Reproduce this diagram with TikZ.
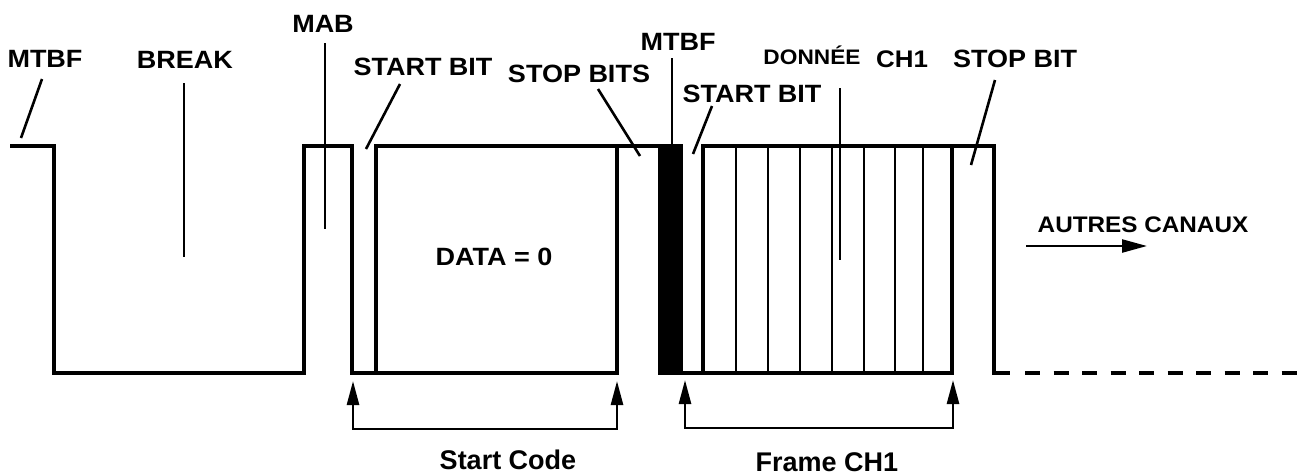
\documentclass[tikz,border=0pt]{standalone}
\usepackage{fontspec}
\setmainfont{Liberation Sans}
\newfontfamily\labfont{Liberation Sans}[FakeStretch=1.08]
\usetikzlibrary{arrows.meta}
\begin{document}
\begin{tikzpicture}[x=1pt,y=-1pt,
  wave/.style={line width=3.9pt, line join=miter, line cap=butt},
  cell/.style={line width=2.8pt},
  leader/.style={line width=2.6pt},
  bracket/.style={line width=2.6pt, {Triangle[length=24pt,width=12pt]}-{Triangle[length=24pt,width=12pt]}},
  lab/.style={inner sep=0pt, anchor=base, font=\labfont\bfseries\fontsize{25}{30}\selectfont},
  labsmall/.style={lab, font=\labfont\bfseries\fontsize{21}{25}\selectfont},
  labmid/.style={lab, font=\labfont\bfseries\fontsize{22.5}{27}\selectfont},
  labmix/.style={inner sep=0pt, anchor=base, font=\bfseries\fontsize{27}{32}\selectfont}]
\useasboundingbox (0,0) rectangle (1307,475);

% ---- waveform ----
\draw[wave] (10,146) -- (54,146) -- (54,373) -- (304,373) -- (304,146) -- (352,146) -- (352,373) -- (617,373) -- (617,146);
\draw[wave] (376,373) -- (376,146) -- (658,146);
\fill (658,144.05) rectangle (683,374.95);
\draw[wave] (683,373) -- (952,373) -- (952,146);
\draw[wave] (703,373) -- (703,146) -- (994,146) -- (994,373) -- (1010,373);
\draw[wave, dash pattern=on 15pt off 13.5pt] (1025,373) -- (1307,373);
\foreach \x in {736,768,800,832,864,895,923}
  \draw[cell] (\x,146) -- (\x,373);

% ---- labels ----
\node[lab] (mtbf1) at (45,67) {MTBF};
\node[lab] (brk) at (185,68) {BREAK};
\node[lab] (mab) at (323,32) {MAB};
\node[lab] (sb1) at (423,75) {START BIT};
\node[lab] (stops) at (579,82) {STOP BITS};
\node[lab] (mtbf2) at (678,50) {MTBF};
\node[lab] (sb2) at (752,102) {START BIT};
\node[labsmall] (donnee) at (812,64) {DONNÉE};
\node[lab, font=\labfont\bfseries\fontsize{24}{28}\selectfont] (ch1) at (902,67) {CH1};
\node[lab] (stop2) at (1015,67) {STOP BIT};
\node[lab] (data) at (494,265) {DATA = 0};
\node[labmid] (autres) at (1143,232) {AUTRES CANAUX};
\node[labmix] (sc) at (508,469) {Start Code};
\node[labmix] (fch) at (827,471) {Frame CH1};

% ---- leader coordinates ----
\coordinate (l1a) at (42,79);   \coordinate (l1b) at (21,138);
\coordinate (l2a) at (184,83);  \coordinate (l2b) at (184,257);
\coordinate (l3a) at (325,43);  \coordinate (l3b) at (325,229);
\coordinate (l4a) at (400,84);  \coordinate (l4b) at (366,149);
\coordinate (l5a) at (598,89);  \coordinate (l5b) at (640,156);
\coordinate (l6a) at (672,58);  \coordinate (l6b) at (672,146);
\coordinate (l7a) at (712,106); \coordinate (l7b) at (693,154);
\coordinate (l8a) at (840,88);  \coordinate (l8b) at (840,260);
\coordinate (l9a) at (995,80);  \coordinate (l9b) at (971,165);
\foreach \i in {1,...,9} \draw[leader] (l\i a) -- (l\i b);

% ---- brackets ----
\coordinate (sca) at (353,381); \coordinate (scb) at (617,381);
\coordinate (fa) at (685,380);  \coordinate (fb) at (953,380);
\draw[bracket] (sca) -- (353,429) -- (617,429) -- (scb);
\draw[bracket] (fa) -- (685,428) -- (953,428) -- (fb);

% ---- autres canaux arrow ----
\coordinate (aa) at (1026,246); \coordinate (ab) at (1147,246);
\draw[line width=2.4pt, -{Triangle[length=25pt,width=13pt]}] (aa) -- (ab);
\end{tikzpicture}
\end{document}
